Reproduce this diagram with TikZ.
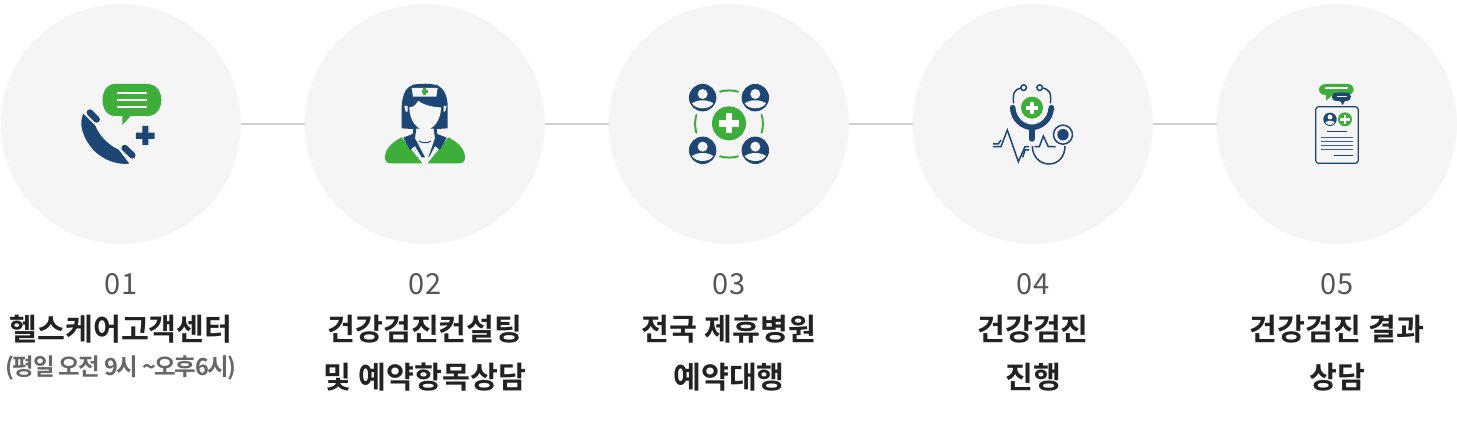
\documentclass[tikz,border=0pt]{standalone}
\usepackage{fontspec}
\setmainfont{Noto Sans CJK KR}[BoldFont={Noto Sans CJK KR Bold}]
\newfontfamily\subfont{Noto Sans CJK KR Bold}[LetterSpace=-6]
\definecolor{navy}{HTML}{1E4675}
\definecolor{leaf}{HTML}{3DAE3A}
\definecolor{disc}{HTML}{F5F5F5}
\definecolor{link}{HTML}{D2D2D2}
\definecolor{ink}{HTML}{222222}
\definecolor{soft}{HTML}{555555}
\tikzset{
  disk/.style={circle,fill=disc,minimum size=240pt,inner sep=0pt,outer sep=0pt},
  linkline/.style={draw=link,line width=2pt},
  numlabel/.style={text=soft,font=\fontsize{29}{29}\selectfont,inner sep=0pt},
  titlelabel/.style={text=ink,font=\fontsize{30.3}{31}\selectfont\bfseries,inner sep=0pt},
  sublabel/.style={text=soft!90!white,font=\subfont\fontsize{23.5}{24}\selectfont,inner sep=0pt},
  icon/.style={x=0.3333pt,y=-0.3333pt,line cap=butt},
}
\begin{document}
\begin{tikzpicture}[x=1pt,y=-1pt]
\useasboundingbox (0,0) rectangle (1457,422);
\fill[white] (0,0) rectangle (1457,422);
\foreach \n/\cx in {1/121,2/425,3/729,4/1033,5/1337} \node[disk] (c\n) at (\cx,124) {};
\draw[linkline] (c1) -- (c2);
\draw[linkline] (c2) -- (c3);
\draw[linkline] (c3) -- (c4);
\draw[linkline] (c4) -- (c5);
% icon 1
\begin{scope}[shift={(60,70)},icon]
\fill[leaf] (187,165) -- (187,138) -- (165,138) .. controls (115,138) and (115,42) .. (165,42) -- (262,42) .. controls (318,42) and (318,138) .. (262,138) -- (212,138) -- cycle;
\foreach \y in {69,90,111} \draw[white,line width=2pt] (172,\y) -- (262,\y);
\fill[navy] (247,168) -- (265,168) -- (265,188) -- (284,188) -- (284,207) -- (265,207) -- (265,225) -- (247,225) -- (247,207) -- (228,207) -- (228,188) -- (247,188) -- cycle;
\fill[navy] (70,131) .. controls (56,160) and (66,200) .. (100,240) .. controls (130,270) and (170,285) .. (208,281) -- (176,239) .. controls (150,228) and (118,200) .. (106,167) -- cycle;
\draw[navy,line width=6.5pt,line cap=round] (89.6,127.6) -- (110,148.5);
\draw[navy,line width=6.5pt,line cap=round] (194,234) -- (217,256);
\end{scope}
% icon 2
\begin{scope}[shift={(365,70)},icon]
\fill[leaf] (60,262) .. controls (60,235) and (85,215) .. (110,202) -- (172,280) -- (78,280) .. controls (65,280) and (60,272) .. (60,262) -- cycle;
\fill[leaf] (300,262) .. controls (300,235) and (275,215) .. (250,202) -- (188,280) -- (282,280) .. controls (295,280) and (300,272) .. (300,262) -- cycle;
\fill[navy] (110,175) -- (110,110) .. controls (112,70) and (125,50) .. (145,44) .. controls (170,40) and (195,40) .. (218,46) .. controls (235,55) and (248,75) .. (248,110) -- (248,175) -- (205,178) -- (155,178) -- cycle;
\fill[disc] (140,54) -- (218,54) -- (214,80) -- (144,80) -- cycle;
\fill[leaf] (175,55) rectangle (184,74);
\fill[leaf] (170,60) rectangle (190,69);
\fill[disc] (133,112) .. controls (150,112) and (155,98) .. (160,92) .. controls (175,105) and (205,112) .. (228,112) .. controls (228,150) and (205,180) .. (180,180) .. controls (155,180) and (133,150) .. (133,112) -- cycle;
\fill[disc] (118,108) -- (128,108) -- (128,125) -- (122,125) -- cycle;
\fill[disc] (236,108) -- (245,108) -- (240,125) -- (236,125) -- cycle;
\fill[disc] (146,176) -- (214,176) -- (216,204) -- (180,280) -- (144,204) -- cycle;
\fill[navy] (146,168) -- (154,176) -- (150,205) -- (180,262) -- (170,262) -- (150,228) -- (135,240) -- (115,203) -- (143,192) -- cycle;
\fill[navy] (214,168) -- (206,176) -- (210,205) -- (190,262) -- (192,262) -- (210,228) -- (225,240) -- (245,203) -- (217,192) -- cycle;
\draw[navy,line width=1pt] (162,213) .. controls (172,220) and (188,220) .. (198,213);
\end{scope}
% icon 3
\begin{scope}[shift={(670,70)},icon]
\foreach \cx/\cy in {98/83,256/83,98/241,256/241} {
  \fill[navy] (\cx,\cy) circle[radius=13.7pt];
  \fill[disc] (\cx,\cy-11) circle[radius=5pt];
  \fill[disc] (\cx-32,\cy+17) .. controls (\cx-15,\cy+5) and (\cx+15,\cy+5) .. (\cx+32,\cy+17) .. controls (\cx+20,\cy+37) and (\cx-20,\cy+37) .. (\cx-32,\cy+17) -- cycle;
}
\fill[leaf] (177,160) circle[radius=17pt];
\fill[white] (167,130) rectangle (187,190);
\fill[white] (147,150) rectangle (207,170);
\draw[leaf,line width=2pt,line cap=round] (150,65) .. controls (168,60) and (187,60) .. (204,65);
\draw[leaf,line width=2pt,line cap=round] (150,259) .. controls (168,264) and (187,264) .. (204,259);
\draw[leaf,line width=2pt,line cap=round] (79,135) .. controls (74,152) and (74,171) .. (79,188);
\draw[leaf,line width=2pt,line cap=round] (275,135) .. controls (280,152) and (280,171) .. (275,188);
\end{scope}
% icon 4
\begin{scope}[shift={(975,70)},icon]
\fill[leaf] (171,113) circle[radius=11pt];
\fill[white] (165,95) rectangle (177,131);
\fill[white] (153,107) rectangle (189,119);
\draw[navy,line width=5.5pt,line cap=round] (113,113) .. controls (115,150) and (145,172) .. (171,172) .. controls (197,172) and (227,150) .. (229,113);
\draw[navy,line width=5.5pt,line cap=round] (171,172) -- (171,207);
\draw[navy,line width=1.5pt] (116,100) .. controls (112,70) and (118,58) .. (138,54);
\draw[navy,line width=1.5pt] (226,100) .. controls (230,70) and (224,58) .. (202,54);
\draw[navy,line width=1.5pt] (146,53) circle[radius=2.8pt];
\draw[navy,line width=1.5pt] (194,53) circle[radius=2.8pt];
\draw[navy,line width=1.5pt] (54,230) -- (78,230) -- (97,180) -- (130,275) -- (150,230) -- (162,230);
\draw[navy,line width=1.5pt] (54,222) -- (70,222) -- (78,210);
\draw[navy,line width=1.5pt] (143,262) -- (150,240) -- (162,240);
\draw[navy,line width=1.5pt] (178,230) -- (193,230) -- (205,198) -- (220,230) -- (242,230);
\draw[navy,line width=1.5pt] (172,228) .. controls (172,260) and (195,282) .. (222,282) .. controls (250,282) and (270,260) .. (270,228);
\draw[navy,line width=1.5pt] (264,194) circle[radius=9.5pt];
\fill[navy] (264,194) circle[radius=5.7pt];
\end{scope}
% icon 5
\begin{scope}[shift={(1290,70)},icon]
\fill[leaf] (108,92) -- (108,75) .. controls (80,75) and (80,42) .. (108,42) -- (172,42) .. controls (198,42) and (198,75) .. (172,75) -- (128,75) -- cycle;
\draw[white,line width=1.2pt] (105,54) -- (175,54);
\fill[navy] (158,105) -- (150,93) -- (142,93) .. controls (120,93) and (120,68) .. (142,68) -- (168,68) .. controls (188,68) and (188,93) .. (168,93) -- (165,93) -- cycle;
\draw[disc,line width=1.2pt] (140,80) -- (170,80);
\draw[navy,line width=1.2pt,rounded corners=3pt,fill=disc] (77,110) rectangle (205,280);
\fill[navy] (120,148) circle[radius=6.7pt];
\fill[disc] (120,141) circle[radius=2.5pt];
\fill[disc] (106,158) .. controls (112,150) and (128,150) .. (134,158) .. controls (128,167) and (112,167) .. (106,158) -- cycle;
\fill[leaf] (165,148) circle[radius=7pt];
\fill[white] (161,134) rectangle (169,162);
\fill[white] (151,144) rectangle (179,152);
\draw[navy,line width=1pt] (112,185) -- (170,185);
\foreach \y in {204,216,228,240} \draw[navy!85!white,line width=1pt] (92,\y) -- (190,\y);
\draw[navy,line width=1pt] (132,258) -- (190,258);
\end{scope}
% labels
\node[numlabel] (n1) at (121,284) {01};
\node[numlabel] (n2) at (425,284) {02};
\node[numlabel] (n3) at (729,284) {03};
\node[numlabel] (n4) at (1033,284) {04};
\node[numlabel] (n5) at (1337,284) {05};
\node[titlelabel] (t1) at (121,329) {헬스케어고객센터};
\node[sublabel] (s1) at (121,368) {(평일 오전 9시 \string~오후6시)};
\node[titlelabel] (t2a) at (425,329) {건강검진컨설팅};
\node[titlelabel] (t2b) at (425,377) {및 예약항목상담};
\node[titlelabel] (t3a) at (729,329) {전국 제휴병원};
\node[titlelabel] (t3b) at (729,377) {예약대행};
\node[titlelabel] (t4a) at (1033,329) {건강검진};
\node[titlelabel] (t4b) at (1033,377) {진행};
\node[titlelabel] (t5a) at (1337,329) {건강검진 결과};
\node[titlelabel] (t5b) at (1337,377) {상담};
\end{tikzpicture}
\end{document}
